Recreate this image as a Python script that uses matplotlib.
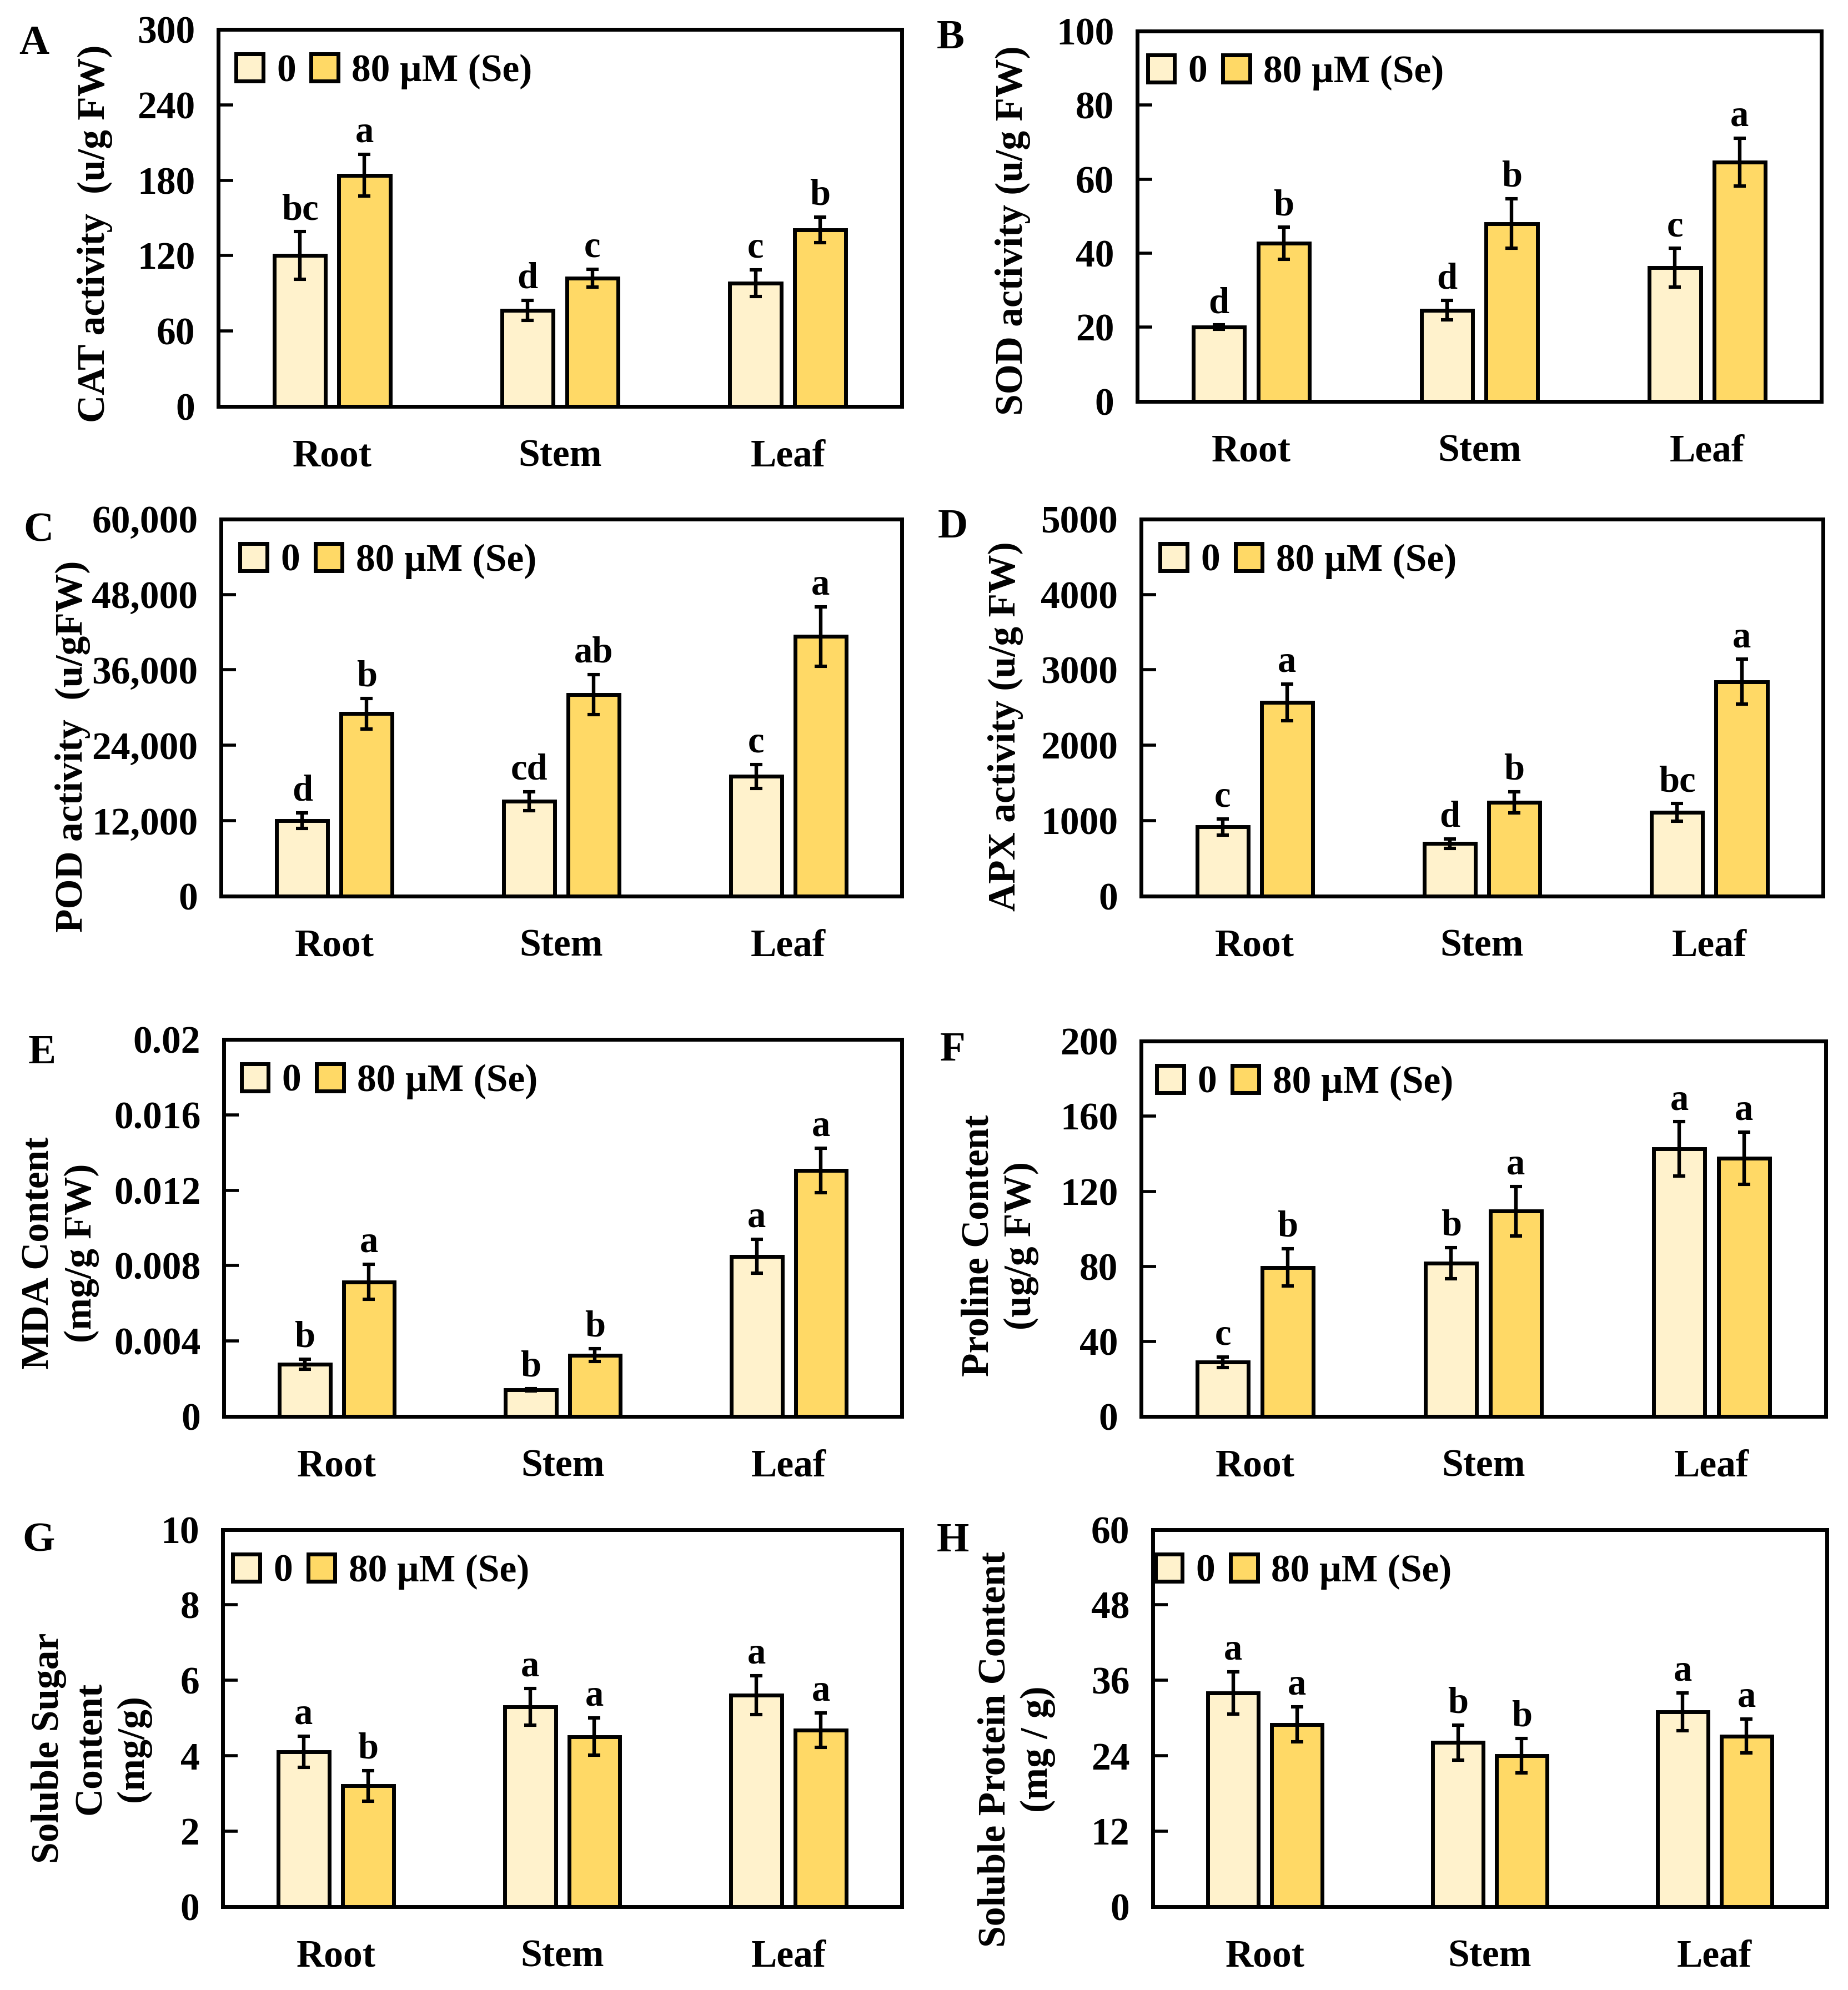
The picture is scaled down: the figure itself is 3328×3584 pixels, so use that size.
import matplotlib
matplotlib.use("Agg")
import matplotlib.pyplot as plt

# Tissues on the x axis and the two Se treatments
tissues = ["Root", "Stem", "Leaf"]
treatments = ["0", "80 \u00b5M (Se)"]

# A - CAT activity
cat_ctrl = [120, 76.5, 98]
cat_ctrl_err = [19, 8, 10.7]
cat_se = [184, 102, 140.5]
cat_se_err = [16.5, 7, 10.2]
cat_letters_ctrl = ["bc", "d", "c"]
cat_letters_se = ["a", "c", "b"]
cat_ticks = [0, 60, 120, 180, 240, 300]
cat_tick_labels = ["0", "60", "120", "180", "240", "300"]

# B - SOD activity
sod_ctrl = [20, 24.6, 36.1]
sod_ctrl_err = [0.6, 2.6, 5.2]
sod_se = [42.7, 48, 64.6]
sod_se_err = [4.3, 6.7, 6.5]
sod_letters_ctrl = ["d", "d", "c"]
sod_letters_se = ["b", "b", "a"]
sod_ticks = [0, 20, 40, 60, 80, 100]
sod_tick_labels = ["0", "20", "40", "60", "80", "100"]

# C - POD activity
pod_ctrl = [12000, 15070, 19030]
pod_ctrl_err = [1270, 1520, 1880]
pod_se = [29020, 32070, 41300]
pod_se_err = [2440, 3150, 4720]
pod_letters_ctrl = ["d", "cd", "c"]
pod_letters_se = ["b", "ab", "a"]
pod_ticks = [0, 12000, 24000, 36000, 48000, 60000]
pod_tick_labels = ["0", "12,000", "24,000", "36,000", "48,000", "60,000"]

# D - APX activity
apx_ctrl = [918, 698, 1108]
apx_ctrl_err = [106, 63, 118]
apx_se = [2568, 1244, 2843]
apx_se_err = [245, 140, 296]
apx_letters_ctrl = ["c", "d", "bc"]
apx_letters_se = ["a", "b", "a"]
apx_ticks = [0, 1000, 2000, 3000, 4000, 5000]
apx_tick_labels = ["0", "1000", "2000", "3000", "4000", "5000"]

# E - MDA content
mda_ctrl = [0.00277, 0.00142, 0.00849]
mda_ctrl_err = [0.00027, 0.00006, 0.0009]
mda_se = [0.00714, 0.00325, 0.01306]
mda_se_err = [0.00093, 0.00034, 0.00118]
mda_letters_ctrl = ["b", "b", "a"]
mda_letters_se = ["a", "b", "a"]
mda_ticks = [0, 0.004, 0.008, 0.012, 0.016, 0.02]
mda_tick_labels = ["0", "0.004", "0.008", "0.012", "0.016", "0.02"]

# F - Proline content
pro_ctrl = [28.9, 81.7, 142.6]
pro_ctrl_err = [2.9, 8.2, 14.4]
pro_se = [79.4, 109.4, 137.6]
pro_se_err = [9.9, 13.1, 13.9]
pro_letters_ctrl = ["c", "b", "a"]
pro_letters_se = ["b", "a", "a"]
pro_ticks = [0, 40, 80, 120, 160, 200]
pro_tick_labels = ["0", "40", "80", "120", "160", "200"]

# G - Soluble sugar content
sug_ctrl = [4.11, 5.3, 5.61]
sug_ctrl_err = [0.41, 0.49, 0.52]
sug_se = [3.2, 4.51, 4.68]
sug_se_err = [0.4, 0.49, 0.46]
sug_letters_ctrl = ["a", "a", "a"]
sug_letters_se = ["b", "a", "a"]
sug_ticks = [0, 2, 4, 6, 8, 10]
sug_tick_labels = ["0", "2", "4", "6", "8", "10"]

# H - Soluble protein content
prot_ctrl = [34, 26.1, 31]
prot_ctrl_err = [3.35, 2.8, 3]
prot_se = [29, 24, 27.15]
prot_se_err = [2.8, 2.75, 2.7]
prot_letters_ctrl = ["a", "b", "a"]
prot_letters_se = ["a", "b", "a"]
prot_ticks = [0, 12, 24, 36, 48, 60]
prot_tick_labels = ["0", "12", "24", "36", "48", "60"]

LIGHT = "#FFF2CC"
DARK = "#FFD966"


def draw_panel(fig, layout, data):
    # Draws one bar panel with error bars, letters and legend
    rect, letter_xy, label_xy, legend_x = layout
    (letter, ylabel, ctrl, ctrl_err, se, se_err,
     letters_ctrl, letters_se, ticks, tick_labels) = data

    ax = fig.add_axes(rect)
    x = list(range(len(tissues)))
    x_ctrl = [i - 0.142 for i in x]
    x_se = [i + 0.142 for i in x]

    # Bars
    b1 = ax.bar(x_ctrl, ctrl, width=0.225, color=LIGHT, edgecolor="black",
                linewidth=2.5, zorder=2)
    b2 = ax.bar(x_se, se, width=0.225, color=DARK, edgecolor="black",
                linewidth=2.5, zorder=2)

    # Error bars
    ax.errorbar(x_ctrl, ctrl, yerr=ctrl_err, fmt="none", ecolor="black",
                elinewidth=2.3, capsize=3.8, capthick=2.2, zorder=3)
    ax.errorbar(x_se, se, yerr=se_err, fmt="none", ecolor="black",
                elinewidth=2.3, capsize=3.8, capthick=2.2, zorder=3)

    # Significance letters
    for xs, vals, errs, labs in [(x_ctrl, ctrl, ctrl_err, letters_ctrl),
                                 (x_se, se, se_err, letters_se)]:
        for xi, v, e, lab in zip(xs, vals, errs, labs):
            ax.annotate(lab, xy=(xi, v + e), xytext=(0, 3),
                        textcoords="offset points", ha="center", va="bottom",
                        fontsize=24, fontweight="bold")

    # Axes styling
    ax.set_xlim(-0.5, 2.5)
    ax.set_ylim(ticks[0], ticks[-1])
    ax.set_yticks(ticks)
    ax.set_yticklabels(tick_labels)
    ax.set_xticks(x)
    ax.set_xticklabels(tissues)
    ax.tick_params(axis="y", direction="in", length=9.6, width=2, pad=15,
                   labelsize=25)
    ax.tick_params(axis="x", length=0, pad=21, labelsize=25)
    for side in ax.spines.values():
        side.set_linewidth(2.5)
        side.set_zorder(4)

    # Y axis label
    ax.text(label_xy[0], label_xy[1], ylabel, transform=ax.transAxes,
            rotation=90, ha="center", va="center", fontsize=25,
            fontweight="bold", linespacing=1.25, multialignment="center")

    # Legend
    ax.legend([b1, b2], treatments, ncol=2, loc="center left",
              bbox_to_anchor=(legend_x, 0.888), frameon=False,
              handlelength=0.7, handleheight=0.7, handletextpad=0.35,
              columnspacing=0.4, borderpad=0, borderaxespad=0,
              prop={"size": 25, "weight": "bold"})

    # Panel letter
    fig.text(letter_xy[0], letter_xy[1], letter, ha="center", va="center",
             fontsize=27, fontweight="bold")


def main():
    plt.rcParams["font.family"] = ["Liberation Serif", "DejaVu Serif"]
    plt.rcParams["font.weight"] = "bold"

    fig = plt.figure(figsize=(16.64, 17.92), dpi=200)

    # Position of each panel: axes rect, letter position, ylabel position, legend x
    layouts = [
        ([0.1181, 0.7958, 0.3699, 0.1894], (0.0183, 0.978), (-0.180, 0.458), 0.026),
        ([0.6154, 0.7983, 0.3702, 0.1861], (0.5144, 0.9807), (-0.182, 0.462), 0.015),
        ([0.1196, 0.5497, 0.3684, 0.1895], (0.0208, 0.733), (-0.218, 0.397), 0.028),
        ([0.6175, 0.5497, 0.3690, 0.1895], (0.5154, 0.735), (-0.199, 0.450), 0.028),
        ([0.1211, 0.2882, 0.3669, 0.1895], (0.0229, 0.4707), (-0.241, 0.433), 0.026),
        ([0.6175, 0.2882, 0.3705, 0.1886], (0.5154, 0.472), (-0.206, 0.455), 0.023),
        ([0.1205, 0.0419, 0.3675, 0.1895], (0.0208, 0.2257), (-0.194, 0.420), 0.015),
        ([0.6238, 0.0419, 0.3648, 0.1895], (0.5157, 0.2254), (-0.202, 0.417), 0.004),
    ]

    panels = [
        ("A", "CAT activity  (u/g FW)", cat_ctrl, cat_ctrl_err, cat_se, cat_se_err,
         cat_letters_ctrl, cat_letters_se, cat_ticks, cat_tick_labels),
        ("B", "SOD activity (u/g FW)", sod_ctrl, sod_ctrl_err, sod_se, sod_se_err,
         sod_letters_ctrl, sod_letters_se, sod_ticks, sod_tick_labels),
        ("C", "POD activity  (u/gFW)", pod_ctrl, pod_ctrl_err, pod_se, pod_se_err,
         pod_letters_ctrl, pod_letters_se, pod_ticks, pod_tick_labels),
        ("D", "APX activity (u/g FW)", apx_ctrl, apx_ctrl_err, apx_se, apx_se_err,
         apx_letters_ctrl, apx_letters_se, apx_ticks, apx_tick_labels),
        ("E", "MDA Content\n(mg/g FW)", mda_ctrl, mda_ctrl_err, mda_se, mda_se_err,
         mda_letters_ctrl, mda_letters_se, mda_ticks, mda_tick_labels),
        ("F", "Proline Content\n(ug/g FW)", pro_ctrl, pro_ctrl_err, pro_se, pro_se_err,
         pro_letters_ctrl, pro_letters_se, pro_ticks, pro_tick_labels),
        ("G", "Soluble Sugar\nContent\n(mg/g)", sug_ctrl, sug_ctrl_err, sug_se, sug_se_err,
         sug_letters_ctrl, sug_letters_se, sug_ticks, sug_tick_labels),
        ("H", "Soluble Protein Content\n(mg / g)", prot_ctrl, prot_ctrl_err, prot_se,
         prot_se_err, prot_letters_ctrl, prot_letters_se, prot_ticks, prot_tick_labels),
    ]

    for layout, data in zip(layouts, panels):
        draw_panel(fig, layout, data)

    fig.savefig("out.png", dpi=200)


if __name__ == "__main__":
    main()
